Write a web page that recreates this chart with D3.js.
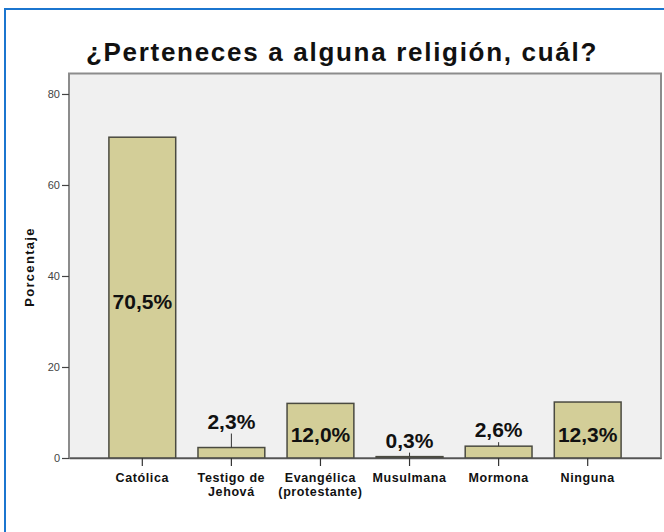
<!DOCTYPE html>
<html>
<head>
<meta charset="utf-8">
<script src="https://cdn.jsdelivr.net/npm/d3@7"></script>
<style>
  body { margin: 0; background: #fff; }
  svg { display: block; font-family: "Liberation Sans", Arial, sans-serif; }
</style>
</head>
<body>
<div id="chart"></div>
<script>
/* chart values */
var categories = ["Católica", "Testigo de\nJehová", "Evangélica\n(protestante)", "Musulmana", "Mormona", "Ninguna"];
var percents = [70.5, 2.3, 12.0, 0.3, 2.6, 12.3];
var labels = ["70,5%", "2,3%", "12,0%", "0,3%", "2,6%", "12,3%"];
var yTicks = [0, 20, 40, 60, 80];
var title = "¿Perteneces a alguna religión, cuál?";
var yLabel = "Porcentaje";

/* layout */
var width = 664, height = 532;
var margin = {top: 73.5, right: 3, bottom: 74, left: 69};
var innerW = width - margin.left - margin.right,
    innerH = height - margin.top - margin.bottom;
/* leader line length for labels drawn above short bars */
var leader = [0, 14, 0, 4, 4, 0];

function translate(x, y) { return "translate(" + x + "," + y + ")"; }

var svg = d3.select("#chart").append("svg")
    .attr("width", width)
    .attr("height", height);

/* blue frame (top and left edges visible) */
svg.append("rect")
    .attr("x", 5).attr("y", 9)
    .attr("width", 700).attr("height", 600)
    .attr("fill", "none")
    .attr("stroke", "#1b75cf")
    .attr("stroke-width", 2);

var x = d3.scaleBand()
    .domain(categories)
    .range([0, innerW])
    .paddingInner(0.25)
    .paddingOuter(0.448);

var y = d3.scaleLinear()
    .domain([0, 84.5])
    .range([innerH, 0]);

var g = svg.append("g").attr("transform", translate(margin.left, margin.top));

/* plot background */
g.append("rect")
    .attr("width", innerW).attr("height", innerH)
    .attr("fill", "#f0f0f0")
    .attr("stroke", "#8c8c8c")
    .attr("stroke-width", 2);

/* bars */
var bar = g.selectAll("g.bar")
    .data(categories)
  .enter().append("g")
    .attr("class", "bar");

bar.append("rect")
    .attr("x", function(d) { return x(d); })
    .attr("y", function(d, i) { return y(percents[i]); })
    .attr("width", x.bandwidth())
    .attr("height", function(d, i) { return innerH - y(percents[i]); })
    .attr("fill", "#d3ce98")
    .attr("stroke", "#4a4a40")
    .attr("stroke-width", 1.5);

/* value labels: inside tall bars, above short ones with a leader line */
bar.each(function(d, i) {
    var sel = d3.select(this),
        cx = x(d) + x.bandwidth() / 2,
        top = y(percents[i]);
    var ty;
    if (leader[i] === 0) {
        ty = (top + innerH) / 2 + 11.5;
    } else {
        sel.append("line")
            .attr("x1", cx).attr("x2", cx)
            .attr("y1", top).attr("y2", top - leader[i])
            .attr("stroke", "#333").attr("stroke-width", 1);
        ty = top - leader[i] - 5;
    }
    sel.append("text")
        .attr("x", cx)
        .attr("y", ty)
        .attr("text-anchor", "middle")
        .attr("font-size", 21)
        .attr("font-weight", "bold")
        .attr("fill", "#111")
        .text(labels[i]);
});

/* x axis */
var xAxis = g.append("g")
    .attr("transform", translate(0, innerH))
    .call(d3.axisBottom(x).tickSizeInner(8).tickSizeOuter(0).tickFormat(""));
xAxis.select(".domain").attr("stroke", "#555").attr("stroke-width", 1.5);
xAxis.selectAll(".tick line").attr("stroke", "#333").attr("stroke-width", 1.2);

xAxis.selectAll(".tick").each(function(d) {
    var lines = d.split("\n");
    var t = d3.select(this).append("text")
        .attr("text-anchor", "middle")
        .attr("font-size", 12.5)
        .attr("font-weight", "bold")
        .attr("letter-spacing", 0.6)
        .attr("fill", "#111");
    lines.forEach(function(s, k) {
        t.append("tspan")
            .attr("x", 0)
            .attr("y", 24 + k * 13.5)
            .text(s);
    });
});

/* y axis */
var yAxis = g.append("g")
    .call(d3.axisLeft(y).tickValues(yTicks).tickSizeInner(7).tickSizeOuter(0).tickPadding(2));
yAxis.select(".domain").remove();
yAxis.selectAll(".tick line").attr("stroke", "#444").attr("stroke-width", 1.2);
yAxis.selectAll(".tick text")
    .attr("font-size", 11)
    .attr("fill", "#444")
    .attr("font-family", "'Liberation Sans', Arial, sans-serif");

/* y label */
svg.append("text")
    .attr("transform", translate(34, 267) + " rotate(-90)")
    .attr("text-anchor", "middle")
    .attr("font-size", 13)
    .attr("font-weight", "bold")
    .attr("letter-spacing", 1.3)
    .attr("fill", "#111")
    .text(yLabel);

/* title */
svg.append("text")
    .attr("x", 86)
    .attr("y", 61)
    .attr("font-size", 26)
    .attr("font-weight", "bold")
    .attr("letter-spacing", 1.7)
    .attr("fill", "#111")
    .text(title);
</script>
</body>
</html>
